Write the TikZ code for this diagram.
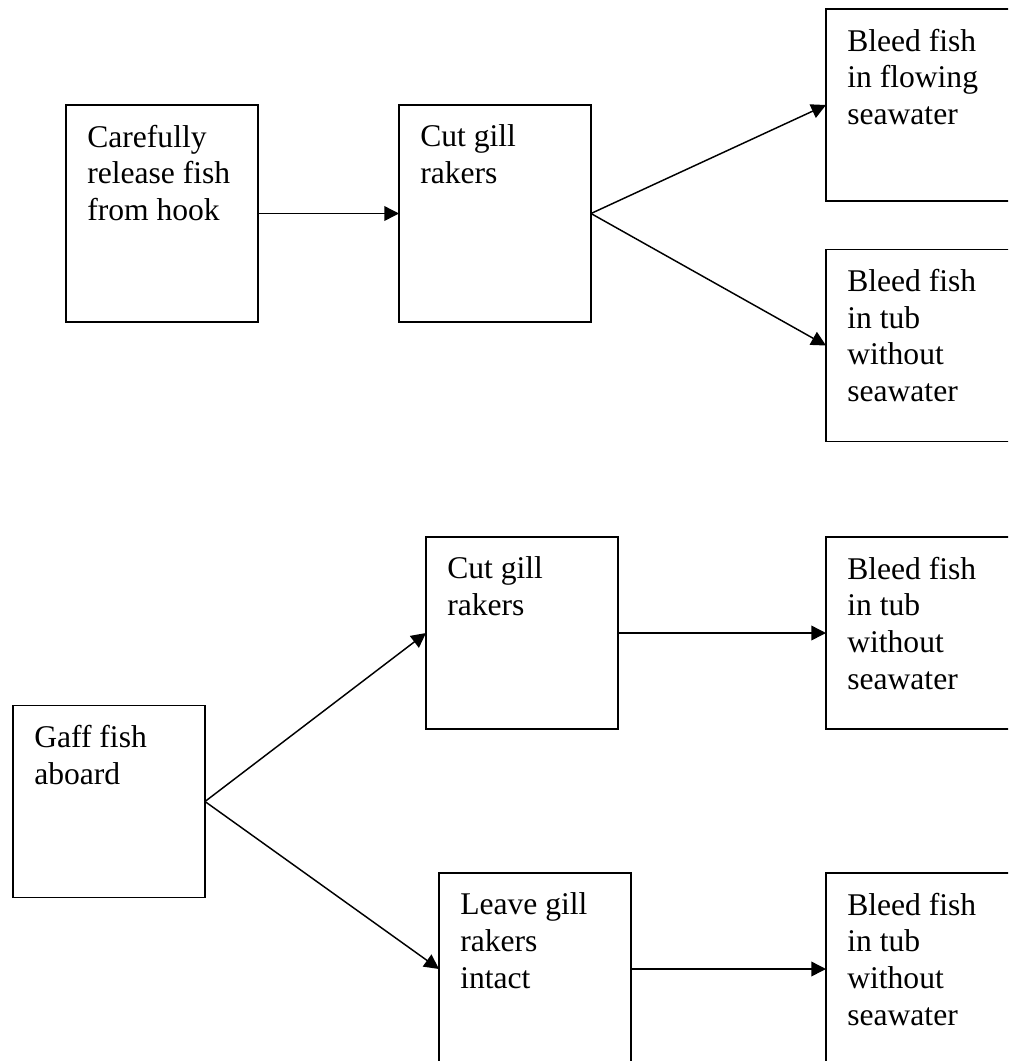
\documentclass[tikz,border=0pt]{standalone}
\usepackage{fontspec}
\setmainfont{Liberation Serif}
\usetikzlibrary{arrows.meta}
\begin{document}
\begin{tikzpicture}[x=0.75pt,y=-0.75pt,
  box/.style={draw,line width=1.2pt,minimum width=144pt,minimum height=144pt,inner sep=0pt,outer sep=0pt},
  tallbox/.style={box,minimum height=162.75pt},
  lab/.style={anchor=north west,inner sep=0pt,align=left,font=\fontsize{23.7}{27.5}\selectfont},
  arr/.style={-{Triangle[length=11pt,width=11pt]},line width=1.1pt}]
\useasboundingbox (0,0) rectangle (1008,1061);
\clip (0,0) rectangle (1008,1061);
% boxes
\node[tallbox] (a) at (162,213.5) {};
\node[tallbox] (b) at (495,213.5) {};
\node[box] (c) at (922,105) {};
\node[box] (d) at (922,345.5) {};
\node[box] (e) at (522,633) {};
\node[box] (f) at (922,633) {};
\node[box] (g) at (109,801.5) {};
\node[box] (h) at (535,969) {};
\node[box] (i) at (922,969) {};
% labels
\node[lab] (ta) at ([shift={(21,19.5)}]a.north west) {Carefully\\release fish\\from hook};
\node[lab] (tb) at ([shift={(21,19.5)}]b.north west) {Cut gill\\rakers};
\node[lab] (tc) at ([shift={(21,19.5)}]c.north west) {Bleed fish\\in flowing\\seawater};
\node[lab] (td) at ([shift={(21,19.5)}]d.north west) {Bleed fish\\in tub\\without\\seawater};
\node[lab] (te) at ([shift={(21,19.5)}]e.north west) {Cut gill\\rakers};
\node[lab] (tf) at ([shift={(21,19.5)}]f.north west) {Bleed fish\\in tub\\without\\seawater};
\node[lab] (tg) at ([shift={(21,19.5)}]g.north west) {Gaff fish\\aboard};
\node[lab] (th) at ([shift={(21,19.5)}]h.north west) {Leave gill\\rakers\\intact};
\node[lab] (ti) at ([shift={(21,19.5)}]i.north west) {Bleed fish\\in tub\\without\\seawater};
% connectors
\draw[arr] (a.east) -- (b.west);
\draw[arr] (b.east) -- (c.west);
\draw[arr] (b.east) -- (d.west);
\draw[arr] (e.east) -- (f.west);
\draw[arr] (g.east) -- (e.west);
\draw[arr] (g.east) -- (h.west);
\draw[arr] (h.east) -- (i.west);
\end{tikzpicture}
\end{document}
